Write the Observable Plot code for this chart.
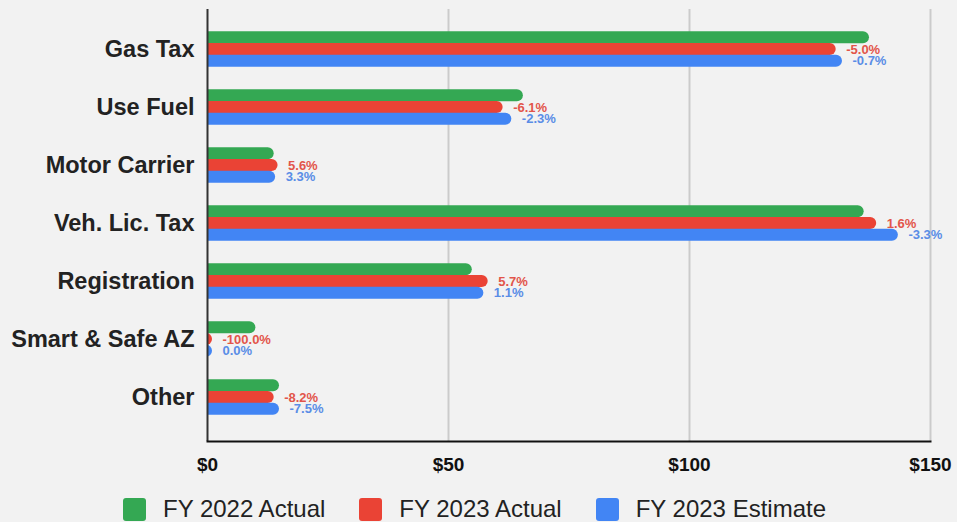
<!DOCTYPE html>
<html>
<head>
<meta charset="utf-8">
<script src="https://cdn.jsdelivr.net/npm/d3@7"></script>
<script src="https://cdn.jsdelivr.net/npm/@observablehq/plot@0.6"></script>
<style>
  html, body { margin: 0; padding: 0; background: #f2f2f2; }
  #chart svg { display: block; }
  .legend { display: flex; justify-content: center; align-items: center; margin-top: 7px; margin-left: -8px;
            font-family: "Liberation Sans", Arial, sans-serif; font-size: 24px; line-height: 24px; color: #222; }
  .legend .item { display: flex; align-items: center; margin: 0 17px; }
  .legend .sw { width: 23px; height: 23px; border-radius: 3px; margin-right: 17px; }
</style>
</head>
<body>
<div id="chart"></div>
<div class="legend" id="legend"></div>
<script>
const categories = ["Gas Tax", "Use Fuel", "Motor Carrier", "Veh. Lic. Tax", "Registration", "Smart & Safe AZ", "Other"];
const fy2022Actual = [136.3, 64.5, 12.8, 135.2, 53.9, 9.0, 13.9];
const fy2023Actual = [129.4, 60.3, 13.6, 137.8, 57.2, 0, 12.8];
const fy2023Estimate = [130.7, 62.1, 13.1, 142.3, 56.3, 0, 13.9];
const changeVsPrior = ["-5.0%", "-6.1%", "5.6%", "1.6%", "5.7%", "-100.0%", "-8.2%"];
const changeVsEstimate = ["-0.7%", "-2.3%", "3.3%", "-3.3%", "1.1%", "0.0%", "-7.5%"];
const xTicks = [0, 50, 100, 150];
const seriesNames = ["FY 2022 Actual", "FY 2023 Actual", "FY 2023 Estimate"];
const seriesColors = ["#34a853", "#ea4335", "#4285f4"];
const labelColors = ["#e2554a", "#5a8de6"];

const rows = categories.map((c, i) => ({
  cat: c, a: fy2022Actual[i], b: fy2023Actual[i], e: fy2023Estimate[i],
  lb: changeVsPrior[i], le: changeVsEstimate[i]
}));

const barOpts = {y: "cat", x1: 0, rx: 6, insetLeft: -10, insetRight: -5, clip: true};

const chart = Plot.plot({
  width: 957,
  height: 490,
  marginLeft: 207,
  marginRight: 27,
  marginTop: 9,
  marginBottom: 49,
  style: {fontFamily: "'Liberation Sans', Arial, sans-serif", background: "#f2f2f2", color: "#222"},
  x: {domain: [0, 150], axis: null},
  y: {domain: categories, range: [17.2, 427.8], paddingInner: 0.8, paddingOuter: 0.4, axis: null},
  marks: [
    Plot.ruleX(xTicks.slice(1), {stroke: "#cbcbcb", strokeWidth: 2}),
    Plot.barX(rows, {...barOpts, x2: "a", fill: seriesColors[0], dy: -11.7}),
    Plot.barX(rows, {...barOpts, x2: "b", fill: seriesColors[1], dy: 0}),
    Plot.barX(rows, {...barOpts, x2: "e", fill: seriesColors[2], dy: 11.7}),
    Plot.text(rows, {y: "cat", x: "b", text: "lb", dx: 15, textAnchor: "start", fill: labelColors[0], fontSize: 13, fontWeight: "bold"}),
    Plot.text(rows, {y: "cat", x: "e", text: "le", dx: 15, dy: 11.7, textAnchor: "start", fill: labelColors[1], fontSize: 13, fontWeight: "bold"}),
    Plot.ruleX([0], {stroke: "#333", strokeWidth: 2}),
    Plot.frame({anchor: "bottom", stroke: "#111", strokeWidth: 2}),
    Plot.axisY({fontSize: 23.5, fontWeight: "bold", tickSize: 0, tickPadding: 13, fill: "#222", label: null}),
    Plot.axisX({ticks: xTicks, tickFormat: d => "$" + d, fontSize: 19, fontWeight: "bold", tickSize: 0, tickPadding: 16, fill: "#111", label: null})
  ]
});
document.getElementById("chart").appendChild(chart);

const legend = document.getElementById("legend");
seriesNames.forEach((n, i) => {
  const it = document.createElement("div");
  it.className = "item";
  const sw = document.createElement("div");
  sw.className = "sw";
  sw.style.background = seriesColors[i];
  const t = document.createElement("span");
  t.textContent = n;
  it.appendChild(sw); it.appendChild(t);
  legend.appendChild(it);
});
</script>
</body>
</html>
